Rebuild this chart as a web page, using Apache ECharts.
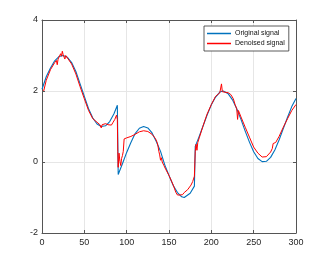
<!DOCTYPE html>
<html><head><meta charset="utf-8">
<script src="https://cdn.jsdelivr.net/npm/echarts@6/dist/echarts.min.js"></script>
<style>html,body{margin:0;padding:0;background:#fff}#c{width:327px;height:262px}</style>
</head><body><div id="c"></div>
<script>
const seriesNames = ['Original signal', 'Denoised signal'];
const xTickValues = [0, 50, 100, 150, 200, 250, 300];
const yTickValues = [-2, 0, 2, 4];

const origX = [0,5,10,15,20,25,30,35,40,45,50,55,60,65,70,75,80,85,89,
  90,95,100,105,110,115,120,125,130,135,140,145,150,155,160,165,168,170,175,180,
  181,185,190,195,200,205,210,214,220,225,230,235,240,245,250,255,260,262,265,270,275,280,285,290,295,300];
const origY = [2.05,2.4,2.65,2.85,2.97,3.0,2.95,2.8,2.55,2.2,1.85,1.5,1.24,1.07,1.0,1.02,1.14,1.36,1.6,
  -0.35,-0.05,0.27,0.55,0.8,0.95,1.0,0.96,0.82,0.58,0.3,-0.08,-0.38,-0.66,-0.86,-0.98,-1.0,-0.98,-0.88,-0.68,
  0.44,0.68,1.0,1.32,1.61,1.83,1.97,2.0,1.92,1.75,1.5,1.2,0.87,0.56,0.29,0.1,0.01,0.0,0.02,0.13,0.34,0.62,0.94,1.26,1.56,1.79];

const denX = [2,5,10,15,17,18,19,20,21,22,23,24,25,26,27,28,30,35,40,45,50,55,60,65,68,70,71,73,75,78,80,82,84,85,86,87,88,89,89.5,
  90,91,92,93,94,95,96,97,100,105,110,115,120,125,130,134,136,137,138,139,140,141,142,144,146,150,155,158,160,163,166,168,170,172,174,176,178,179,180,
  181,182,183,184,185,186,190,195,200,205,210,211,212,213,215,220,223,225,226,228,230,231,232,235,240,245,250,255,260,262,265,270,272,273,275,276,278,280,285,290,295,300];
const denY = [2.0,2.3,2.6,2.8,2.86,2.74,2.9,2.95,2.86,3.05,2.98,3.12,3.02,3.06,2.9,3.0,2.95,2.76,2.48,2.12,1.78,1.45,1.22,1.12,1.06,0.96,1.05,1.0,1.08,1.05,1.08,1.04,1.12,1.1,1.2,1.15,1.32,1.2,0.3,
  -0.15,0.25,0.02,-0.1,0.1,0.18,0.3,0.65,0.68,0.72,0.78,0.85,0.88,0.86,0.78,0.66,0.55,0.45,0.3,0.2,0.05,0.12,0.0,-0.1,-0.2,-0.38,-0.65,-0.85,-0.93,-0.93,-0.92,-0.86,-0.85,-0.78,-0.8,-0.65,-0.55,-0.6,-0.4,
  0.3,0.5,0.33,0.55,0.5,0.7,1.0,1.35,1.62,1.85,1.95,1.97,2.2,1.98,1.97,1.95,1.9,1.85,1.78,1.62,1.5,1.2,1.45,1.27,0.98,0.7,0.42,0.25,0.14,0.13,0.15,0.28,0.38,0.52,0.52,0.55,0.6,0.72,0.98,1.22,1.45,1.62];

const zip = (xs, ys) => xs.map((x, i) => [x, ys[i]]);
const font = 'Liberation Sans, Arial, Helvetica, sans-serif';
const axisCol = '#555';
const xMin = xTickValues[0], xMax = xTickValues[xTickValues.length - 1], xInt = xTickValues[1] - xTickValues[0];
const yMin = yTickValues[0], yMax = yTickValues[yTickValues.length - 1], yInt = yTickValues[1] - yTickValues[0];

function xAx(pos, labels) {
  return {
    type: 'value', position: pos, min: xMin, max: xMax, interval: xInt,
    axisLine: { show: true, onZero: false, lineStyle: { color: axisCol, width: 1 } },
    axisTick: { show: true, inside: true, length: 3, lineStyle: { color: axisCol } },
    axisLabel: { show: labels, color: '#262626', fontSize: 9, fontFamily: font, margin: 5 },
    splitLine: { show: labels, lineStyle: { color: '#e6e6e6', width: 1 } }
  };
}
function yAx(pos, labels) {
  return {
    type: 'value', position: pos, min: yMin, max: yMax, interval: yInt,
    axisLine: { show: true, onZero: false, lineStyle: { color: axisCol, width: 1 } },
    axisTick: { show: true, inside: true, length: 3, lineStyle: { color: axisCol } },
    axisLabel: { show: labels, color: '#262626', fontSize: 9, fontFamily: font, margin: 4 },
    splitLine: { show: labels, lineStyle: { color: '#e6e6e6', width: 1 } }
  };
}

const chart = echarts.init(document.getElementById('c'), null, { renderer: 'canvas' });
chart.setOption({
  animation: false,
  backgroundColor: '#fff',
  grid: { left: 42, right: 31, top: 20, bottom: 29, containLabel: false, outerBoundsMode: 'none' },
  xAxis: [xAx('bottom', true), xAx('top', false)],
  yAxis: [yAx('left', true), yAx('right', false)],
  legend: {
    orient: 'vertical', left: 204, top: 26,
    padding: [3, 4, 3, 3], itemGap: 1, itemWidth: 24, itemHeight: 1.5,
    icon: 'rect',
    backgroundColor: '#fff', borderColor: '#333', borderWidth: 0.8,
    textStyle: { fontSize: 7, fontFamily: font, color: '#111', lineHeight: 9, padding: [0, 0, 0, -1] },
    data: seriesNames
  },
  series: [
    { name: seriesNames[0], type: 'line', data: zip(origX, origY), symbol: 'none', showSymbol: false,
      lineStyle: { color: '#0072BD', width: 1.1 }, itemStyle: { color: '#0072BD' }, z: 2 },
    { name: seriesNames[1], type: 'line', data: zip(denX, denY), symbol: 'none', showSymbol: false,
      lineStyle: { color: '#FF0000', width: 1.0 }, itemStyle: { color: '#FF0000' }, z: 3 }
  ]
});
</script></body></html>
